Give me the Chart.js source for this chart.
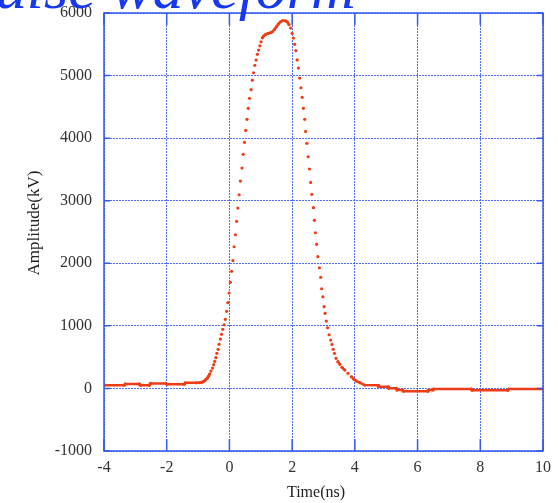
<!DOCTYPE html>
<html>
<head>
<meta charset="utf-8">
<script src="https://cdn.jsdelivr.net/npm/chart.js"></script>
<style>
  html, body { margin: 0; padding: 0; background: #fff; }
  #wrap { width: 558px; height: 503px; position: relative; }
</style>
</head>
<body>
<div id="wrap"><canvas id="chartPulse"></canvas></div>
<script>
// Waveform samples (time in ns, amplitude in kV)
const timeNs = [
  -4.00, -3.35, -3.32, -2.87, -2.84, -2.55, -2.52, -2.02, -1.99, -1.44, -1.41, -1.05,
  -0.95, -0.87, -0.82, -0.77, -0.71, -0.67, -0.63, -0.59, -0.54, -0.50, -0.47, -0.43,
  -0.40, -0.36, -0.33, -0.29, -0.25, -0.21, -0.17, -0.13, -0.09, -0.05, -0.01,
  0.03, 0.07, 0.11, 0.15, 0.19, 0.23, 0.27, 0.31, 0.35, 0.40, 0.44, 0.48, 0.52, 0.56,
  0.60, 0.64, 0.69, 0.73, 0.77, 0.81, 0.85, 0.89, 0.93, 0.97, 1.01, 1.05, 1.09, 1.16,
  1.23, 1.31, 1.37, 1.44, 1.50, 1.56, 1.63, 1.69, 1.77, 1.84, 1.90, 1.95, 2.00, 2.04,
  2.08, 2.12, 2.16, 2.20, 2.24, 2.28, 2.32, 2.36, 2.40, 2.43, 2.47, 2.51, 2.55, 2.59,
  2.63, 2.68, 2.71, 2.74, 2.78, 2.82, 2.87, 2.91, 2.94, 2.98, 3.02, 3.05, 3.09, 3.13,
  3.18, 3.23, 3.27, 3.31, 3.35, 3.40, 3.46, 3.52, 3.59, 3.68, 3.78, 3.89, 3.97, 4.05,
  4.16, 4.31, 4.74, 4.76, 5.06, 5.08, 5.32, 5.34, 5.53, 5.55, 6.33, 6.35, 6.49, 6.51,
  7.72, 7.74, 8.88, 8.90, 10.00
];
const amplitudeKv = [
  52, 52, 72, 72, 50, 50, 80, 80, 66, 66, 90, 90,
  94, 100, 113, 134, 161, 193, 230, 278, 326, 379, 433, 491,
  561, 625, 705, 789, 865, 944, 1018, 1104, 1232, 1370, 1525,
  1695, 1871, 2041, 2264, 2456, 2670, 2883, 3095, 3314, 3522, 3741, 3933, 4124, 4300,
  4476, 4636, 4775, 4926, 5045, 5163, 5248, 5339, 5408, 5476, 5540, 5604, 5631, 5659,
  5674, 5684, 5700, 5738, 5780, 5823, 5860, 5876, 5876, 5860, 5815, 5760, 5675, 5600,
  5500, 5400, 5250, 5120, 4960, 4805, 4652, 4476, 4300, 4108, 3917, 3703, 3507, 3293,
  3102, 2888, 2686, 2488, 2303, 2105, 1929, 1775, 1593, 1465, 1306, 1200, 1077, 970,
  858, 773, 704, 625, 561, 481, 427, 385, 337, 294, 241, 187, 145, 118,
  91, 54, 50, 27, 27, 2, 2, -26, -26, -46, -46, -26, -26, -10,
  -10, -30, -30, -10, -10
];
const xTicks = [-4, -2, 0, 2, 4, 6, 8, 10];
const yTicks = [-1000, 0, 1000, 2000, 3000, 4000, 5000, 6000];

const RED = '#f03c14';
const BLUE = '#3559ee';
const GRID = 'rgba(50,85,240,0.85)';
const SERIF = '"Liberation Serif", "Times New Roman", serif';

// Frame, inward ticks, axis titles and the big title
const framePlugin = {
  id: 'frame',
  afterDraw(chart) {
    const { ctx, chartArea: a, scales: { x, y } } = chart;
    ctx.save();
    ctx.strokeStyle = BLUE;
    ctx.lineWidth = 1.5;
    ctx.strokeRect(a.left, a.top, a.right - a.left, a.bottom - a.top);

    ctx.beginPath();
    xTicks.forEach(v => {
      const px = x.getPixelForValue(v);
      ctx.moveTo(px, a.bottom); ctx.lineTo(px, a.bottom - 12);
      ctx.moveTo(px, a.top); ctx.lineTo(px, a.top + 12);
    });
    yTicks.forEach(v => {
      const py = y.getPixelForValue(v);
      ctx.moveTo(a.left, py); ctx.lineTo(a.left + 6, py);
      ctx.moveTo(a.right, py); ctx.lineTo(a.right - 6, py);
    });
    ctx.stroke();

    ctx.fillStyle = '#222';
    ctx.textAlign = 'center';
    ctx.textBaseline = 'middle';
    ctx.font = '16px ' + SERIF;
    ctx.fillText('Time(ns)', 316, 493);
    ctx.save();
    ctx.translate(35, 223);
    ctx.rotate(-Math.PI / 2);
    ctx.font = '17px ' + SERIF;
    ctx.fillText('Amplitude(kV)', 0, 0);
    ctx.restore();

    ctx.fillStyle = '#1538f0';
    ctx.font = 'italic 62px ' + SERIF;
    ctx.textAlign = 'left';
    ctx.textBaseline = 'alphabetic';
    ctx.fillText('Pulse waveform', -42, 8);
    ctx.restore();
  }
};

const ctx = document.getElementById('chartPulse').getContext('2d');
new Chart(ctx, {
  type: 'scatter',
  data: {
    datasets: [{
      data: timeNs.map((t, i) => ({ x: t, y: amplitudeKv[i] })),
      showLine: true,
      borderColor: RED,
      borderWidth: 2.5,
      borderJoinStyle: 'round',
      borderCapStyle: 'round',
      tension: 0,
      pointRadius: 1.6,
      pointHoverRadius: 0,
      pointBorderWidth: 0,
      pointBackgroundColor: RED,
      // steep parts are only dots, flat parts become a solid trace
      segment: {
        borderColor: c => Math.abs(c.p1.y - c.p0.y) > 3 ? 'transparent' : RED
      }
    }]
  },
  options: {
    responsive: true,
    maintainAspectRatio: false,
    animation: false,
    layout: { padding: { top: 13, right: 15, left: 0, bottom: 0 } },
    plugins: { legend: { display: false }, tooltip: { enabled: false } },
    scales: {
      x: {
        type: 'linear',
        min: -4, max: 10,
        afterBuildTicks: s => { s.ticks = xTicks.map(v => ({ value: v })); },
        afterFit: s => { s.height = 52; s.paddingLeft = 0; s.paddingRight = 0; },
        ticks: {
          callback: v => String(v),
          padding: 7, maxRotation: 0, autoSkip: false,
          color: '#333', font: { family: SERIF, size: 16 }
        },
        grid: { color: GRID, lineWidth: 1, drawTicks: false },
        border: { display: false, dash: [2, 1] }
      },
      y: {
        min: -1000, max: 6000,
        afterBuildTicks: s => { s.ticks = yTicks.map(v => ({ value: v })); },
        afterFit: s => { s.width = 104; s.paddingTop = 0; s.paddingBottom = 0; },
        ticks: {
          callback: v => String(v),
          padding: 12, autoSkip: false,
          color: '#333', font: { family: SERIF, size: 16 }
        },
        grid: { color: GRID, lineWidth: 1, drawTicks: false },
        border: { display: false, dash: [2, 1] }
      }
    }
  },
  plugins: [framePlugin]
});
</script>
</body>
</html>
